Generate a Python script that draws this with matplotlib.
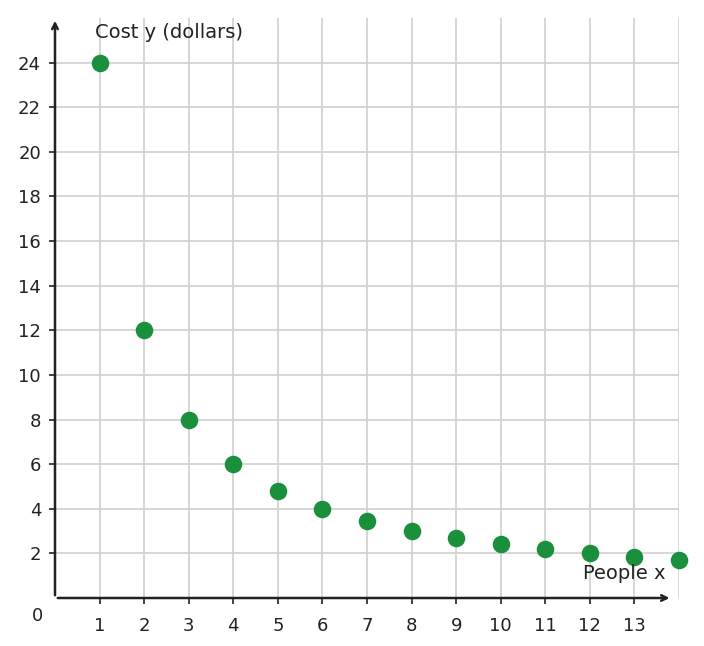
import matplotlib
matplotlib.use("Agg")
import matplotlib.pyplot as plt

people = [1, 2, 3, 4, 5, 6, 7, 8, 9, 10, 11, 12, 13, 14]
cost = [24, 12, 8, 6, 4.8, 4, 3.43, 3, 2.67, 2.4, 2.18, 2, 1.85, 1.71]
x_ticks = list(range(1, 14))
y_ticks = list(range(2, 25, 2))

fig = plt.figure(figsize=(7.04, 6.46), dpi=100)
ax = fig.add_axes([55/704, 48/646, 624/704, 580/646])
ax.set_xlim(0, 14)
ax.set_ylim(0, 26)

for x in range(1, 15):
    ax.plot([x, x], [0, 26], color="#d3d3d3", lw=1.3, zorder=0)
for y in y_ticks:
    ax.plot([0, 14], [y, y], color="#d3d3d3", lw=1.3, zorder=0)

for s in ax.spines.values():
    s.set_visible(False)
ax.set_xticks(x_ticks)
ax.set_yticks(y_ticks)
ax.tick_params(colors="#222222", labelsize=13, length=4, width=1.2)
ax.tick_params(axis="x", pad=10)
ax.tick_params(axis="y", pad=6)

ax.annotate("", xy=(13.85, 0), xytext=(0, 0), xycoords="data",
            arrowprops=dict(arrowstyle="->", color="#222222", lw=1.8), annotation_clip=False)
ax.annotate("", xy=(0, 26), xytext=(0, 0), xycoords="data",
            arrowprops=dict(arrowstyle="->", color="#222222", lw=1.8), annotation_clip=False)

ax.scatter(people, cost, s=135, color="#1a8f3c", zorder=3, clip_on=False)

ax.text(0.9, 25.1, "Cost y (dollars)", fontsize=14, color="#222222")
ax.text(13.7, 0.85, "People x", fontsize=14, color="#222222", ha="right")
ax.text(-0.4, -0.8, "0", fontsize=13, color="#222222", ha="center", va="center")

fig.savefig("out.png", dpi=100)
